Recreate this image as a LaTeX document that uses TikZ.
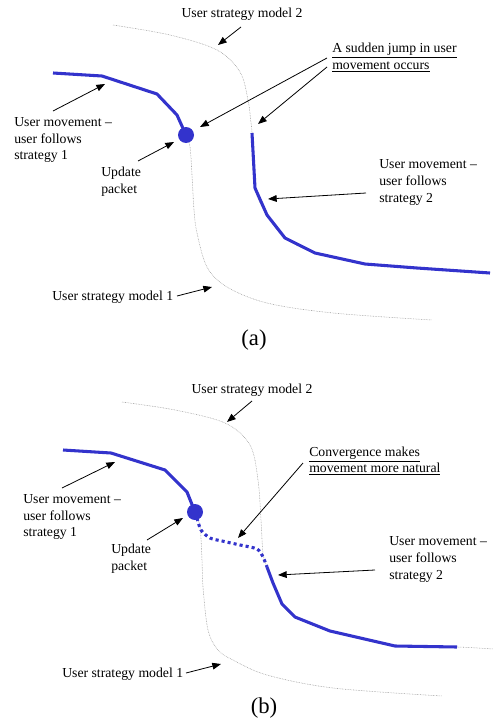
\documentclass[tikz,border=0pt]{standalone}
\usepackage{fontspec}
\setmainfont{Liberation Serif}
\usetikzlibrary{arrows.meta}
\definecolor{mvblue}{RGB}{51,51,204}
\begin{document}
\begin{tikzpicture}[x=0.75pt,y=-0.75pt,
  lbl/.style={inner sep=0pt,anchor=west,align=left,font=\fontsize{10.3}{12.4}\selectfont},
  panelcap/.style={inner sep=0pt,font=\fontsize{17}{19}\selectfont},
  model/.style={gray!80,line width=0.4pt,dash pattern=on 0.5pt off 0.7pt},
  move/.style={mvblue,line width=2.3pt,line join=round},
  movedot/.style={mvblue,line width=2.3pt,dash pattern=on 2.3pt off 2.3pt},
  pkt/.style={circle,fill=mvblue,inner sep=0pt,minimum size=12pt},
  ptr/.style={-{Triangle[length=6.5pt,width=5pt]},line width=0.6pt,black}]
\useasboundingbox (0,0) rectangle (493,721);

% ---------- panel (a) ----------
\draw[model] plot[smooth,tension=0.55] coordinates {(113,25) (170,35) (217,50) (240,72) (248,100) (251,123) (252,133) (255,188) (267,215) (285,238) (315,253) (365,264) (417,268) (490,273)};
\draw[model] plot[smooth,tension=0.55] coordinates {(186,135) (190,147) (192,175) (194,210) (197,233) (207,267) (227,287) (267,303) (333,313) (432,320)};
\draw[move] (53,73) -- (102,76) -- (157,94) -- (177,115) -- (186,135);
\draw[move] (252,133) -- (255,188) -- (267,215) -- (285,238) -- (315,253) -- (365,264) -- (417,268) -- (490,273);
\node[pkt] (pa) at (186,135) {};

\node[lbl,anchor=center] (m2a) at (242,14) {User strategy model 2};
\node[lbl] (jump) at (332,57.5) {\underline{A sudden jump in user}\\\underline{movement occurs}};
\node[lbl] (s1a) at (14,140) {User movement --\\user follows\\strategy 1};
\node[lbl] (upa) at (101,181.5) {Update\\packet};
\node[lbl] (s2a) at (379,182.5) {User movement --\\user follows\\strategy 2};
\node[lbl] (m1a) at (52,297) {User strategy model 1};
\node[panelcap] (capa) at (254,340) {(a)};

\coordinate (m2at) at (241,27); \coordinate (m2ah) at (218,45);
\coordinate (j1t) at (327,58);  \coordinate (j1h) at (200,127);
\coordinate (j2t) at (327,67);  \coordinate (j2h) at (258,124);
\coordinate (s1at) at (53,111); \coordinate (s1ah) at (105,84);
\coordinate (upat) at (138,161); \coordinate (upah) at (174,142);
\coordinate (s2at) at (366,193); \coordinate (s2ah) at (268,199);
\coordinate (m1at) at (177,296); \coordinate (m1ah) at (212,287);
\draw[ptr] (m2at) -- (m2ah);
\draw[ptr] (j1t) -- (j1h);
\draw[ptr] (j2t) -- (j2h);
\draw[ptr] (s1at) -- (s1ah);
\draw[ptr] (upat) -- (upah);
\draw[ptr] (s2at) -- (s2ah);
\draw[ptr] (m1at) -- (m1ah);

% ---------- panel (b) ----------
\draw[model] plot[smooth,tension=0.55] coordinates {(122,402) (175,410) (225,423) (250,445) (258,480) (261,520) (263,553) (267,567) (273,583) (282,604) (295,617) (330,631) (395,646) (457,647) (493,649)};
\draw[model] plot[smooth,tension=0.55] coordinates {(195,512) (200,527) (202,560) (203,587) (208,630) (218,650) (233,660) (267,675) (333,688) (442,696)};
\draw[move] (63,450) -- (111,453) -- (165,470) -- (187,492) -- (195,512);
\draw[movedot] plot[smooth,tension=0.5] coordinates {(197,518) (201,530) (210,538) (222,541) (240,545) (257,549) (263,557) (267,567)};
\draw[move] (267,567) -- (273,583) -- (282,604) -- (295,617) -- (330,631) -- (395,646) -- (457,647);
\node[pkt] (pb) at (195,512) {};

\node[lbl,anchor=center] (m2b) at (252,390) {User strategy model 2};
\node[lbl] (conv) at (309,461) {\underline{Convergence makes}\\\underline{movement more natural}};
\node[lbl] (s1b) at (23,517) {User movement --\\user follows\\strategy 1};
\node[lbl] (upb) at (111,558.5) {Update\\packet};
\node[lbl] (s2b) at (389,559.5) {User movement --\\user follows\\strategy 2};
\node[lbl] (m1b) at (62,674) {User strategy model 1};
\node[panelcap] (capb) at (264,708) {(b)};

\coordinate (m2bt) at (252,401); \coordinate (m2bh) at (227,422);
\coordinate (cvt) at (303,463);  \coordinate (cvh) at (238,538);
\coordinate (s1bt) at (62,488);  \coordinate (s1bh) at (115,462);
\coordinate (upbt) at (147,540); \coordinate (upbh) at (183,518);
\coordinate (s2bt) at (375,570); \coordinate (s2bh) at (278,575);
\coordinate (m1bt) at (186,673); \coordinate (m1bh) at (221,664);
\draw[ptr] (m2bt) -- (m2bh);
\draw[ptr] (cvt) -- (cvh);
\draw[ptr] (s1bt) -- (s1bh);
\draw[ptr] (upbt) -- (upbh);
\draw[ptr] (s2bt) -- (s2bh);
\draw[ptr] (m1bt) -- (m1bh);
\end{tikzpicture}
\end{document}
